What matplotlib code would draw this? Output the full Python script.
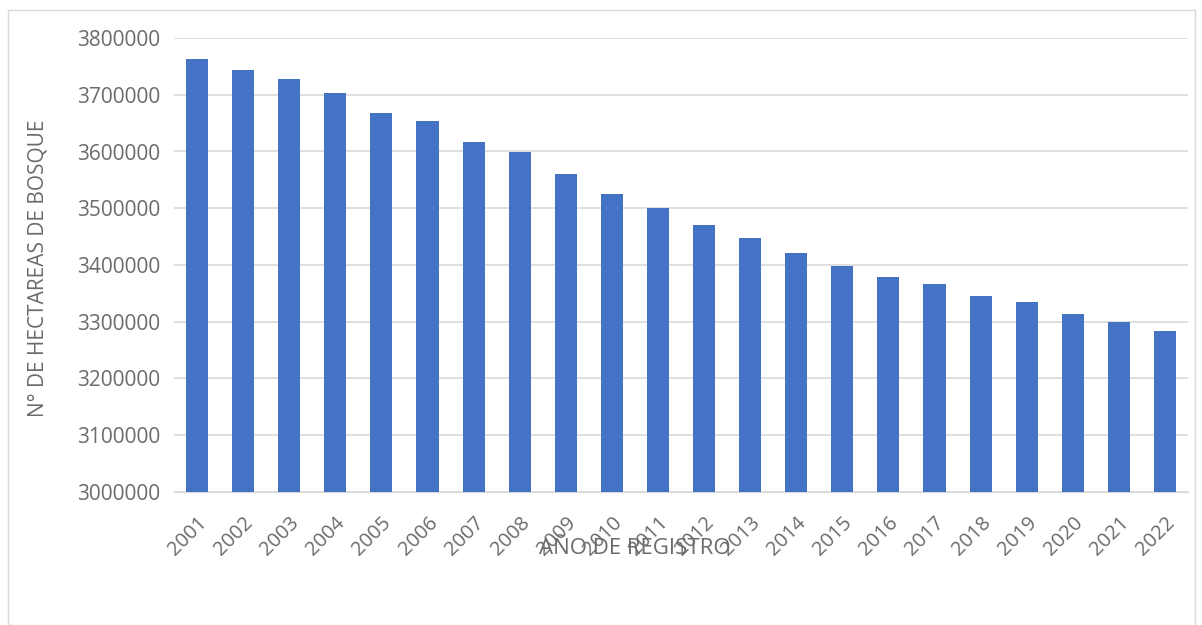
import numpy as np
import matplotlib.pyplot as plt
from matplotlib.patches import Rectangle

years = [str(y) for y in range(2001, 2023)]
hectareas = [3763000, 3743000, 3728000, 3703000, 3668000, 3654000, 3617000,
             3599000, 3560000, 3525000, 3500000, 3470000, 3448000, 3421000,
             3398000, 3379000, 3366000, 3345000, 3334000, 3314000, 3300000,
             3284000]
yticks = [3000000, 3100000, 3200000, 3300000, 3400000, 3500000, 3600000,
          3700000, 3800000]

W, H = 1202, 625
fig = plt.figure(figsize=(W / 100, H / 100), dpi=100)
plt.rcParams['font.family'] = ['Open Sans', 'DejaVu Sans']
ax = fig.add_axes([174 / W, 1 - 492 / H, (1188 - 174) / W, (492 - 38) / H])

gray = '#6b6b6b'
x = np.arange(len(years))
ax.bar(x, hectareas, width=0.48, color='#4472C4', zorder=3)
ax.set_xlim(-0.5, len(years) - 0.5)
ax.set_ylim(3000000, 3800000)
ax.set_yticks(yticks)
ax.set_yticklabels([str(v) for v in yticks], fontsize=15, color=gray)
ax.set_xticks(x)
ax.set_xticklabels(years, rotation=45, ha='right', rotation_mode='anchor',
                   fontsize=14.5, color=gray)
ax.tick_params(length=0, axis='y', pad=10)
ax.tick_params(length=0, axis='x', pad=15)
ax.yaxis.grid(True, color='#d9d9d9', linewidth=1.2, zorder=0)
for s in ['top', 'right', 'left']:
    ax.spines[s].set_visible(False)
ax.spines['bottom'].set_color('#d9d9d9')

fig.text(38 / W, 1 - 268 / H, 'N° DE HECTAREAS DE BOSQUE', rotation=90,
         ha='center', va='center', fontsize=15, color=gray)
fig.text(635 / W, 1 - 548 / H, 'AÑO DE REGISTRO', ha='center', va='center',
         fontsize=16, color=gray)

fig.patches.append(Rectangle((8 / W, 0), (1195 - 8) / W, 1 - 10 / H,
                             transform=fig.transFigure, fill=False,
                             edgecolor='#d9d9d9', linewidth=1))

fig.savefig('out.png', dpi=100)
